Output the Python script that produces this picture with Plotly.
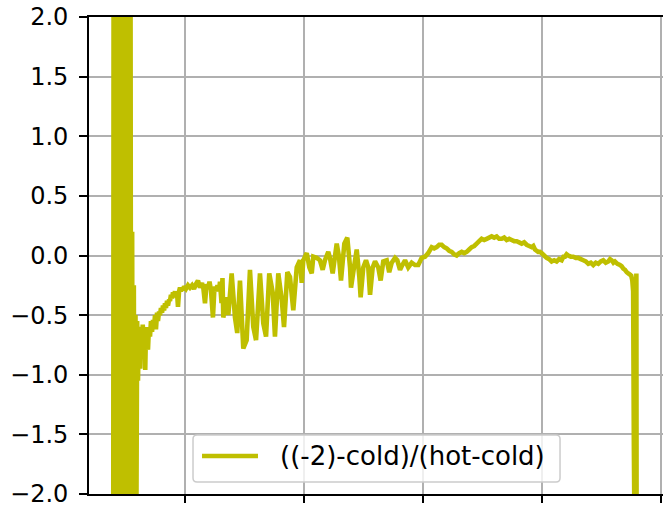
import plotly.graph_objects as go

# channel positions and ratio values
# the noisy start where the ratio blows up past +/-2
x_spike = [39.5, 40.2, 40.9, 41.6, 42.3, 43.0, 43.7, 44.4, 45.1, 45.8, 46.5, 47.2, 47.9,
           48.6, 49.3, 50.0, 50.7, 51.4, 52.1, 52.8, 53.5, 54.2, 54.9, 55.6, 56.3, 57.0,
           57.7, 58.4, 59.1, 59.8, 60.5, 61.2]
y_spike = [-6, 6, -6, 5, -6, 5, -5, 0.0, -5, 6, -6, 6, -6,
           5, -6, 5, -5, 4, -5, 4, -5, 2.5, -4, 0.2, -4, -0.25,
           -3, -0.5, -2.3, -0.55, -1.05, -0.6]

# recovery and the ringing part
x_rise = [61.8, 62.4, 63.0, 63.9, 64.5, 65.2, 65.9, 66.6, 67.2, 68.1, 68.9, 69.7, 70.6,
          71.4, 72.3, 73.1, 74.0, 74.8, 75.6, 76.5, 77.3, 78.2, 79.0, 79.8, 80.7, 81.5,
          82.4, 83.2, 84.0, 84.9, 85.7, 86.6, 87.4, 88.2, 89.1, 89.9, 90.8, 91.6, 92.4,
          93.3, 94.1, 95.0, 95.8, 96.6, 97.5, 98.3, 99.2, 100.8, 102.5, 104.2, 105.9,
          107.6, 109.2, 110.9, 112.6, 114.3, 115.5, 116.8, 118.1, 119.3, 120.6, 121.8,
          123.5, 124.8, 126.0, 127.3, 128.6, 129.4, 130.7, 131.5, 132.2, 135.0, 136.4,
          139.2, 142.0, 143.9, 146.2, 149.0, 151.8, 154.6, 157.4, 159.7, 163.0, 165.8,
          168.1, 170.8, 173.7, 175.6, 178.4, 181.3, 183.2, 186.0, 188.2, 191.0, 193.9,
          196.6, 198.1, 199.4]
y_rise = [-0.62, -0.95, -0.6, -0.8, -0.58, -0.75, -0.6, -0.96, -0.62, -0.7, -0.79, -0.6, -0.68,
          -0.55, -0.64, -0.54, -0.6, -0.5, -0.62, -0.48, -0.55, -0.47, -0.5, -0.44, -0.48, -0.42,
          -0.46, -0.4, -0.44, -0.38, -0.42, -0.37, -0.38, -0.33, -0.36, -0.31, -0.34, -0.3, -0.35,
          -0.31, -0.43, -0.3, -0.27, -0.3, -0.27, -0.29, -0.26, -0.28, -0.25, -0.27, -0.25,
          -0.28, -0.24, -0.21, -0.27, -0.23, -0.28, -0.40, -0.24, -0.28, -0.22, -0.29,
          -0.52, -0.26, -0.3, -0.25, -0.3, -0.22, -0.4, -0.19, -0.52, -0.35, -0.50,
          -0.15, -0.52, -0.65, -0.21, -0.78, -0.71, -0.12, -0.60, -0.71, -0.15, -0.57,
          -0.68, -0.15, -0.31, -0.68, -0.15, -0.37, -0.60, -0.14, -0.18, -0.46, -0.10,
          -0.04, -0.23, -0.04]

x_mid = [202.3, 204.5, 206.5, 207.8, 210.7, 213.4, 215.7, 217.6, 220.4, 221.8, 224.1, 227.5,
         229.4, 231.1, 233.9, 236.4, 238.7, 239.5, 242.0, 244.3, 246.5, 247.6, 249.8, 252.1,
         254.0, 255.5, 257.7, 259.7, 262.4, 264.4, 266.6, 269.5, 271.6, 273.7, 276.5, 278.4,
         280.7, 282.1, 284.9, 287.6, 290.5, 293.3, 296.0, 298.9]
y_mid = [0.02, -0.10, -0.15, -0.01, -0.02, -0.04, -0.12, -0.04, 0.03, -0.02, -0.15, 0.10,
         -0.01, -0.21, 0.10, 0.15, -0.10, -0.27, -0.10, 0.05, -0.18, -0.35, -0.10, -0.04,
         -0.10, -0.33, -0.10, -0.05, -0.10, -0.21, -0.05, -0.04, -0.14, -0.06, -0.02, -0.04,
         -0.12, -0.09, -0.04, -0.10, -0.06, -0.08, -0.08, -0.02]

# smooth hump and the drop at the far end
x_tail = [301.7, 304.4, 307.3, 309.4, 311.5, 313.6, 315.7, 317.8, 319.9, 322.0, 324.1, 326.2,
          328.3, 330.4, 332.5, 334.6, 336.7, 338.8, 340.9, 343.0, 345.1, 347.2, 349.3, 351.4,
          353.5, 355.6, 357.7, 359.8, 361.9, 364.0, 366.1, 368.2, 370.3, 372.4, 374.5, 376.6,
          378.7, 380.8, 382.9, 385.0, 387.1, 389.2, 391.3, 392.7, 394.1, 395.4, 396.8, 398.2,
          399.7, 401.8, 403.9, 406.0, 408.1, 410.2, 412.3, 414.4, 416.5, 418.0, 419.3, 420.7,
          422.1, 424.2, 426.3, 428.4, 430.5, 432.6, 434.7, 436.8, 438.9, 441.0, 443.1, 445.2,
          447.3, 449.4, 451.5, 453.6, 455.7, 457.2, 458.6, 460.0, 461.3, 463.4, 465.5, 466.9,
          468.3, 469.8, 471.2, 472.5, 473.9, 475.0, 475.9, 476.6, 477.2, 477.9, 479.3, 479.6]
y_tail = [-0.01, 0.02, 0.07, 0.06, 0.07, 0.09, 0.09, 0.07, 0.06, 0.04, 0.03, 0.01,
          0.0, 0.02, 0.03, 0.02, 0.03, 0.05, 0.07, 0.08, 0.10, 0.12, 0.14, 0.13,
          0.14, 0.15, 0.16, 0.15, 0.16, 0.14, 0.14, 0.15, 0.13, 0.14, 0.13, 0.12,
          0.12, 0.11, 0.10, 0.11, 0.09, 0.08, 0.07, 0.08, 0.05, 0.04, 0.03, 0.03,
          0.02, 0.0, -0.02, -0.03, -0.05, -0.04, -0.05, -0.03, -0.04, -0.01, -0.01, 0.01,
          0.0, -0.01, -0.01, -0.02, -0.02, -0.03, -0.04, -0.05, -0.07, -0.06, -0.08, -0.06,
          -0.07, -0.05, -0.04, -0.06, -0.05, -0.03, -0.04, -0.06, -0.05, -0.07, -0.08, -0.09,
          -0.11, -0.12, -0.14, -0.15, -0.16, -0.17, -0.21, -0.30, -1.6, -2.5, -0.15, -3.5]

x = x_spike + x_rise + x_mid + x_tail
y = y_spike + y_rise + y_mid + y_tail

label = "((-2)-cold)/(hot-cold)"
font = "DejaVu Sans"
grid = "#b0b0b0"
color = "#bfbf00"

fig = go.Figure(go.Scatter(
    x=x, y=y, mode="lines", name=label, showlegend=False,
    line=dict(color=color, width=4.6, simplify=False),
))

fig.update_layout(
    width=663, height=510,
    margin=dict(l=89, r=0, t=17, b=16),
    plot_bgcolor="white", paper_bgcolor="white",
    font=dict(family=font, size=24, color="black"),
)

# matplotlib style legend box (rounded), drawn in paper coords
bx0, bx1, by0, by1 = 0.1812, 0.8206, 0.0252, 0.1237
rx, ry = 0.007, 0.0084
box = (f"M{bx0+rx},{by0} L{bx1-rx},{by0} Q{bx1},{by0} {bx1},{by0+ry} "
       f"L{bx1},{by1-ry} Q{bx1},{by1} {bx1-rx},{by1} "
       f"L{bx0+rx},{by1} Q{bx0},{by1} {bx0},{by1-ry} "
       f"L{bx0},{by0+ry} Q{bx0},{by0} {bx0+rx},{by0} Z")
fig.add_shape(type="path", path=box, xref="paper", yref="paper",
              fillcolor="rgba(255,255,255,0.8)", line=dict(color="#cccccc", width=1.5))
fig.add_shape(type="line", xref="paper", yref="paper", x0=0.1969, x1=0.2944, y0=0.0797, y1=0.0797,
              line=dict(color=color, width=4.3))
fig.add_annotation(text=label, xref="paper", yref="paper", x=0.3293, y=0.0797,
                   xanchor="left", yanchor="middle", showarrow=False,
                   font=dict(family=font, size=26, color="black"))

fig.update_xaxes(
    range=[19.33, 501.68], tick0=100, dtick=100, automargin=False,
    showgrid=True, gridcolor=grid, gridwidth=1.6, zeroline=False,
    showline=True, linecolor="black", linewidth=1.6, mirror=True,
    ticks="outside", ticklen=7, tickwidth=1.6, tickcolor="black",
    showticklabels=False,
)
fig.update_yaxes(
    range=[-2, 2], tick0=0, dtick=0.5, tickformat=".1f", automargin=False,
    showgrid=True, gridcolor=grid, gridwidth=1.6, zeroline=False,
    showline=True, linecolor="black", linewidth=1.6,
    ticks="outside", ticklen=8, tickwidth=1.6, tickcolor="black",
    ticklabelstandoff=6, ticklabeloverflow="allow",
)

# drop the browser's default 8px body margin so the figure sits at the page corner
fig.write_html("out.html", config={"displayModeBar": False},
               post_script="document.body.style.margin = '0';")
